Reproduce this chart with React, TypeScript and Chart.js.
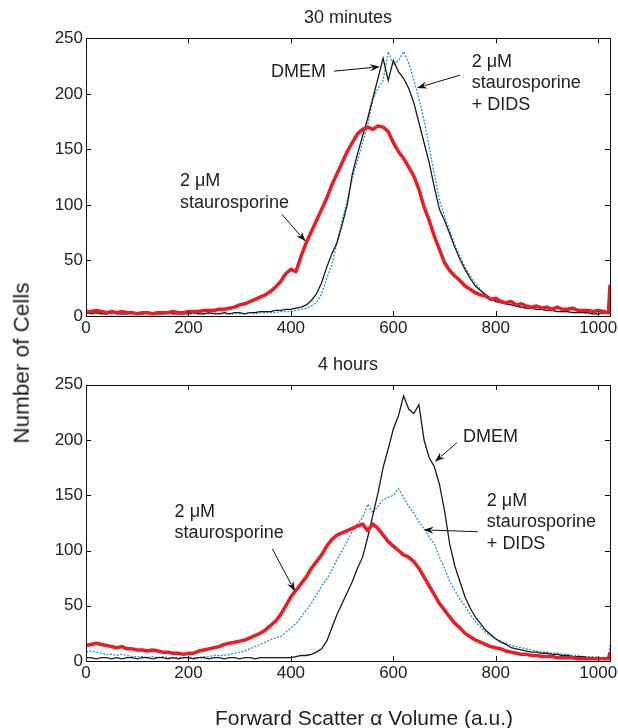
import React, { useEffect, useRef } from "react";
import { Chart, registerables } from "chart.js";

Chart.register(...registerables);

const FONT = '"Liberation Sans", Arial, Helvetica, sans-serif';
const TEXT_COLOR = "#222";

// Channel positions (forward scatter, a.u.)
const X_VALUES = [
  0, 10, 20, 30, 40, 50, 60, 70, 80, 90,
  100, 110, 120, 130, 140, 150, 160, 170, 180, 190,
  200, 210, 220, 230, 240, 250, 260, 270, 280, 290,
  300, 310, 320, 330, 340, 350, 360, 370, 380, 390,
  400, 410, 420, 430, 440, 450, 460, 470, 480, 490,
  500, 510, 520, 530, 540, 550, 560, 570, 580, 590,
  600, 610, 620, 630, 640, 650, 660, 670, 680, 690,
  700, 710, 720, 730, 740, 750, 760, 770, 780, 790,
  800, 810, 820, 830, 840, 850, 860, 870, 880, 890,
  900, 910, 920, 930, 940, 950, 960, 970, 980, 990,
  1000, 1010, 1020, 1023,
];

const X_TICKS = [0, 200, 400, 600, 800, 1000];
const Y_TICKS = [0, 50, 100, 150, 200, 250];

// 30 minutes
const MIN30_STAURO = [
  4, 4, 5, 4, 3, 4, 3, 4, 3, 3,
  2, 3, 3, 2, 3, 3, 3, 4, 3, 3,
  4, 4, 4, 5, 5, 5, 6, 6, 7, 8,
  10, 11, 13, 15, 17, 19, 22, 26, 31, 38,
  42, 40, 54, 66, 76, 86, 96, 106, 118, 128,
  138, 148, 156, 164, 168, 170, 168, 171, 170, 166,
  156, 148, 142, 134, 126, 114, 98, 86, 72, 60,
  48, 41, 36, 32, 27, 24, 21, 19, 18, 15,
  16, 13, 12, 13, 10, 11, 9, 8, 9, 7,
  8, 6, 8, 6, 6, 7, 5, 5, 5, 4,
  5, 4, 3, 28,
];
const MIN30_DMEM = [
  3, 2, 3, 2, 2, 3, 2, 2, 2, 3,
  2, 2, 3, 2, 2, 2, 3, 2, 2, 2,
  2, 3, 2, 2, 3, 2, 2, 3, 2, 3,
  3, 2, 3, 3, 4, 4, 4, 5, 5, 6,
  6, 7, 8, 10, 14, 20, 30, 44, 56, 66,
  82, 100, 128, 146, 162, 178, 196, 214, 232, 212,
  230, 220, 214, 205, 192, 174, 156, 138, 116, 96,
  86, 74, 62, 51, 42, 34, 27, 23, 19, 16,
  13, 12, 11, 10, 9, 8, 7, 7, 6, 6,
  5, 5, 4, 4, 4, 3, 3, 3, 3, 2,
  2, 3, 2, 5,
];
const MIN30_STAURO_DIDS = [
  2, 3, 2, 2, 2, 2, 3, 2, 2, 2,
  2, 2, 2, 3, 2, 2, 2, 2, 2, 3,
  2, 2, 2, 2, 2, 3, 2, 2, 2, 2,
  2, 2, 3, 2, 3, 3, 3, 3, 4, 4,
  4, 5, 6, 7, 9, 12, 20, 34, 46, 66,
  86, 104, 124, 140, 156, 172, 195, 205, 212, 238,
  226, 230, 238, 228, 212, 196, 176, 152, 128, 104,
  90, 77, 64, 54, 44, 36, 29, 24, 20, 16,
  14, 12, 11, 10, 9, 8, 7, 7, 6, 6,
  5, 5, 4, 4, 4, 3, 3, 3, 2, 2,
  2, 2, 3, 6,
];

// 4 hours
const HR4_STAURO = [
  14, 15, 16, 15, 14, 13, 12, 13, 11, 11,
  10, 10, 9, 10, 9, 8, 8, 7, 7, 6,
  7, 7, 9, 10, 11, 12, 13, 15, 16, 17,
  18, 19, 21, 23, 25, 28, 32, 36, 42, 50,
  58, 64, 70, 76, 84, 90, 96, 104, 110, 114,
  116, 118, 120, 122, 124, 118, 124, 120, 114, 108,
  104, 100, 96, 94, 90, 84, 76, 68, 60, 52,
  46, 40, 34, 30, 25, 22, 19, 17, 15, 13,
  12, 11, 9, 8, 7, 6, 6, 5, 5, 4,
  4, 4, 3, 3, 3, 3, 2, 2, 2, 2,
  2, 2, 2, 8,
];
const HR4_DMEM = [
  3, 3, 2, 3, 3, 2, 3, 2, 3, 3,
  2, 3, 3, 2, 3, 3, 2, 3, 2, 3,
  3, 2, 3, 3, 2, 3, 3, 2, 3, 3,
  2, 3, 3, 2, 3, 3, 3, 3, 3, 3,
  3, 4, 5, 5, 6, 8, 11, 18, 30, 42,
  52, 62, 72, 84, 94, 112, 132, 152, 175, 192,
  210, 222, 240, 228, 224, 232, 200, 184, 176, 160,
  136, 106, 86, 72, 58, 48, 40, 34, 28, 24,
  20, 17, 15, 12, 11, 10, 9, 8, 8, 7,
  7, 6, 6, 5, 5, 4, 4, 4, 3, 3,
  3, 3, 3, 6,
];
const HR4_STAURO_DIDS = [
  8, 9, 8, 7, 6, 6, 5, 6, 5, 4,
  4, 4, 3, 4, 3, 4, 3, 3, 3, 3,
  3, 3, 3, 4, 4, 5, 5, 5, 6, 7,
  8, 9, 11, 13, 15, 17, 19, 21, 22, 26,
  30, 34, 40, 46, 52, 60, 68, 74, 82, 92,
  100, 108, 118, 124, 130, 142, 134, 140, 146, 148,
  150, 156, 148, 140, 134, 126, 120, 112, 106, 94,
  84, 72, 64, 56, 50, 42, 36, 31, 26, 23,
  20, 18, 16, 14, 13, 12, 11, 10, 9, 8,
  8, 7, 7, 6, 6, 5, 5, 4, 4, 4,
  3, 3, 3, 14,
];

const LABEL_STAURO = ["2 \u03bcM", "staurosporine"];
const LABEL_DIDS = ["2 \u03bcM", "staurosporine", "+ DIDS"];
const LABEL_DMEM = ["DMEM"];

type Note = {
  lines: string[];
  x: number;
  y: number;
  from: [number, number];
  to: [number, number];
};

const NOTES_30MIN: Note[] = [
  { lines: LABEL_DMEM, x: 361, y: 220, from: [484, 220.4], to: [574, 224.4] },
  { lines: LABEL_DIDS, x: 753, y: 229, from: [730, 216.8], to: [646, 205.3] },
  { lines: LABEL_STAURO, x: 183.5, y: 121.4, from: [382.5, 91.5], to: [429, 67] },
];

const NOTES_4H: Note[] = [
  { lines: LABEL_DMEM, x: 736, y: 203, from: [724, 197.5], to: [681, 180.3] },
  { lines: LABEL_DIDS, x: 782.6, y: 145, from: [765, 117], to: [658.7, 118.7] },
  { lines: LABEL_STAURO, x: 173, y: 135, from: [364, 101.4], to: [408, 63] },
];

function toPoints(ys: number[]) {
  return X_VALUES.map((x, i) => ({ x, y: ys[i] }));
}

function makePlugin(notes: Note[]) {
  return {
    id: "boxAndNotes",
    afterDatasetsDraw(chart: any) {
      const { ctx, chartArea: a } = chart;
      const xs = chart.scales.x;
      const ys = chart.scales.y;
      ctx.save();
      // frame
      ctx.strokeStyle = "#111";
      ctx.lineWidth = 1;
      ctx.strokeRect(
        Math.round(a.left) + 0.5,
        Math.round(a.top) + 0.5,
        Math.round(a.right - a.left),
        Math.round(a.bottom - a.top)
      );
      // inward ticks
      const tl = 5;
      ctx.beginPath();
      X_TICKS.forEach((v) => {
        const px = Math.round(xs.getPixelForValue(v)) + 0.5;
        ctx.moveTo(px, a.bottom);
        ctx.lineTo(px, a.bottom - tl);
        ctx.moveTo(px, a.top);
        ctx.lineTo(px, a.top + tl);
      });
      Y_TICKS.forEach((v) => {
        const py = Math.round(ys.getPixelForValue(v)) + 0.5;
        ctx.moveTo(a.left, py);
        ctx.lineTo(a.left + tl, py);
        ctx.moveTo(a.right, py);
        ctx.lineTo(a.right - tl, py);
      });
      ctx.stroke();

      // annotations
      ctx.fillStyle = TEXT_COLOR;
      ctx.font = `18px ${FONT}`;
      ctx.textAlign = "left";
      ctx.textBaseline = "middle";
      notes.forEach((n) => {
        const tx = xs.getPixelForValue(n.x);
        const ty = ys.getPixelForValue(n.y);
        n.lines.forEach((line, i) => ctx.fillText(line, tx, ty + i * 21.5));
        const x1 = xs.getPixelForValue(n.from[0]);
        const y1 = ys.getPixelForValue(n.from[1]);
        const x2 = xs.getPixelForValue(n.to[0]);
        const y2 = ys.getPixelForValue(n.to[1]);
        const ang = Math.atan2(y2 - y1, x2 - x1);
        const hl = 10;
        const hw = 3.5;
        ctx.strokeStyle = "#111";
        ctx.lineWidth = 1;
        ctx.beginPath();
        ctx.moveTo(x1, y1);
        ctx.lineTo(x2 - Math.cos(ang) * hl * 0.8, y2 - Math.sin(ang) * hl * 0.8);
        ctx.stroke();
        ctx.fillStyle = "#111";
        ctx.beginPath();
        ctx.moveTo(x2, y2);
        ctx.lineTo(
          x2 - Math.cos(ang) * hl + Math.sin(ang) * hw,
          y2 - Math.sin(ang) * hl - Math.cos(ang) * hw
        );
        ctx.lineTo(x2 - Math.cos(ang) * hl * 0.7, y2 - Math.sin(ang) * hl * 0.7);
        ctx.lineTo(
          x2 - Math.cos(ang) * hl - Math.sin(ang) * hw,
          y2 - Math.sin(ang) * hl + Math.cos(ang) * hw
        );
        ctx.closePath();
        ctx.fill();
        ctx.fillStyle = TEXT_COLOR;
      });
      ctx.restore();
    },
  };
}

function makeConfig(
  title: string,
  stauro: number[],
  dmem: number[],
  dids: number[],
  notes: Note[],
  bottom: boolean
): any {
  return {
    type: "line",
    data: {
      datasets: [
        {
          label: "2 \u03bcM staurosporine",
          data: toPoints(stauro),
          borderColor: "#ec1c24",
          borderWidth: 3.5,
          pointRadius: 0,
          tension: 0,
          borderJoinStyle: "round",
        },
        {
          label: "DMEM",
          data: toPoints(dmem),
          borderColor: "#1a1a1a",
          borderWidth: 1.3,
          pointRadius: 0,
          tension: 0,
        },
        {
          label: "2 \u03bcM staurosporine + DIDS",
          data: toPoints(dids),
          borderColor: "#2a8fd6",
          borderWidth: 1.3,
          borderDash: [2, 1.5],
          pointRadius: 0,
          tension: 0,
        },
      ],
    },
    options: {
      responsive: false,
      animation: false,
      events: [],
      layout: { padding: { left: 0, right: 8, top: 0, bottom: 0 } },
      plugins: {
        legend: { display: false },
        tooltip: { enabled: false },
        title: {
          display: true,
          fullSize: false,
          text: title,
          color: TEXT_COLOR,
          font: { family: FONT, size: 18, weight: "normal", lineHeight: 1.2 },
          padding: bottom ? { top: 9, bottom: 9.2 } : { top: 7.5, bottom: 9.2 },
        },
      },
      scales: {
        x: {
          type: "linear",
          min: 0,
          max: 1023,
          afterBuildTicks: (s: any) => {
            s.ticks = X_TICKS.map((v) => ({ value: v }));
          },
          afterFit: (s: any) => {
            s.height = bottom ? 67 : 29;
            s.paddingLeft = 0;
            s.paddingRight = 0;
          },
          grid: { display: false, drawTicks: false },
          border: { display: false },
          ticks: {
            color: TEXT_COLOR,
            font: { family: FONT, size: 17 },
            padding: 2,
            maxRotation: 0,
            autoSkip: false,
            callback: (v: any) => String(v),
          },
        },
        y: {
          type: "linear",
          min: 0,
          max: 250,
          afterBuildTicks: (s: any) => {
            s.ticks = Y_TICKS.map((v) => ({ value: v }));
          },
          afterFit: (s: any) => {
            s.width = 86;
            s.paddingTop = 0;
            s.paddingBottom = 0;
          },
          grid: { display: false, drawTicks: false },
          border: { display: false },
          ticks: {
            color: TEXT_COLOR,
            font: { family: FONT, size: 17 },
            padding: 3,
            callback: (v: any) => String(v),
          },
        },
      },
    },
    plugins: [makePlugin(notes)],
  };
}

export default function App() {
  const topRef = useRef<HTMLCanvasElement | null>(null);
  const bottomRef = useRef<HTMLCanvasElement | null>(null);

  useEffect(() => {
    const c1 = new Chart(
      topRef.current as HTMLCanvasElement,
      makeConfig("30 minutes", MIN30_STAURO, MIN30_DMEM, MIN30_STAURO_DIDS, NOTES_30MIN, false)
    );
    const c2 = new Chart(
      bottomRef.current as HTMLCanvasElement,
      makeConfig("4 hours", HR4_STAURO, HR4_DMEM, HR4_STAURO_DIDS, NOTES_4H, true)
    );
    return () => {
      c1.destroy();
      c2.destroy();
    };
  }, []);

  return (
    <div
      style={{
        position: "absolute",
        left: 0,
        top: 0,
        width: 618,
        height: 728,
        background: "#fff",
        overflow: "hidden",
      }}
    >
      <canvas
        ref={topRef}
        width={618}
        height={345}
        style={{ position: "absolute", left: 0, top: 0, width: 618, height: 345 }}
      />
      <canvas
        ref={bottomRef}
        width={618}
        height={383}
        style={{ position: "absolute", left: 0, top: 345, width: 618, height: 383 }}
      />
      <div
        style={{
          position: "absolute",
          left: 22,
          top: 363,
          transform: "translate(-50%, -50%) rotate(-90deg)",
          whiteSpace: "nowrap",
          fontFamily: FONT,
          fontSize: 22.5,
          color: TEXT_COLOR,
          lineHeight: 1,
        }}
      >
        Number of Cells
      </div>
      <div
        style={{
          position: "absolute",
          left: 364,
          top: 717,
          transform: "translate(-50%, -50%)",
          whiteSpace: "nowrap",
          fontFamily: FONT,
          fontSize: 21,
          color: TEXT_COLOR,
          lineHeight: 1,
        }}
      >
        Forward Scatter {"\u03b1"} Volume (a.u.)
      </div>
    </div>
  );
}
